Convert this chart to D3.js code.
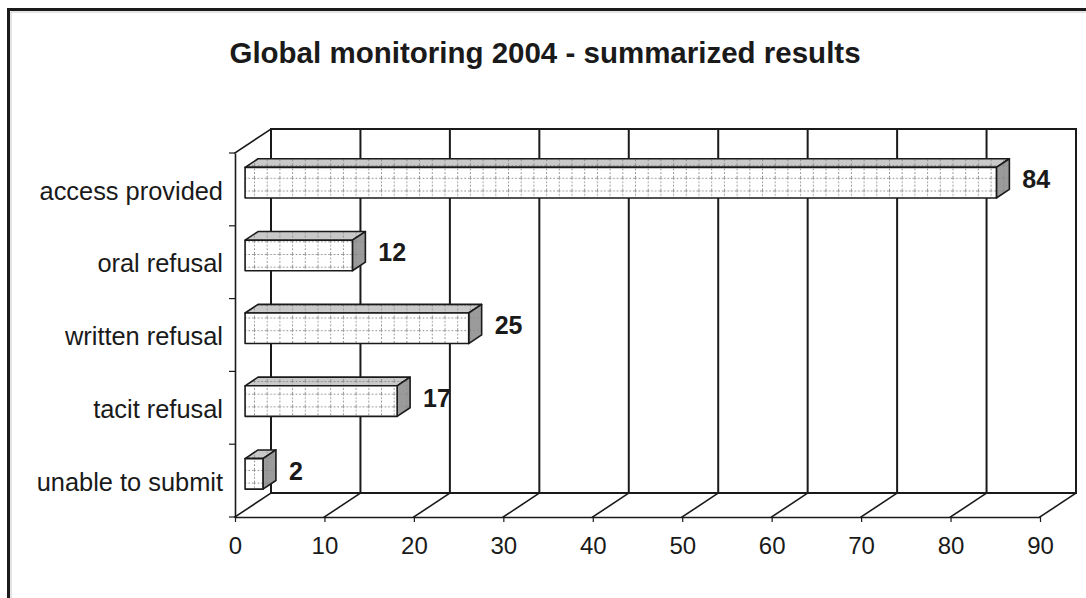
<!DOCTYPE html>
<html>
<head>
<meta charset="utf-8">
<script src="https://cdn.jsdelivr.net/npm/d3@7"></script>
<style>
  html, body { margin: 0; padding: 0; background: #fff; }
  svg { display: block; }
</style>
</head>
<body>
<div id="chart"></div>
<script>
// Chart data
const categories = ['access provided', 'oral refusal', 'written refusal', 'tacit refusal', 'unable to submit'];
const values = [84, 12, 25, 17, 2];
const xTicks = [0, 10, 20, 30, 40, 50, 60, 70, 80, 90];
const title = 'Global monitoring 2004 - summarized results';

const W = 1086, H = 598;
const fontFamily = '"Liberation Sans", Arial, sans-serif';
const ink = '#1a1a1a';

// 3D depth vector (front plane -> back wall) and bar slab depth fractions
const depth = { dx: 36, dy: -24 };
const barFront = 0.28, barBack = 0.64;

const svg = d3.select('#chart').append('svg')
  .attr('width', W)
  .attr('height', H)
  .attr('viewBox', `0 0 ${W} ${H}`);

// Pattern used for the bar faces
const defs = svg.append('defs');
const pat = defs.append('pattern')
  .attr('id', 'grid')
  .attr('patternUnits', 'userSpaceOnUse')
  .attr('width', 12.7)
  .attr('height', 12.7);
pat.append('line').attr('x1', 0.5).attr('x2', 0.5).attr('y1', 0).attr('y2', 12.7)
  .style('stroke', '#8a8a8a').style('stroke-width', 1).style('stroke-dasharray', '1.6,2');
pat.append('line').attr('x1', 0).attr('x2', 12.7).attr('y1', 0.5).attr('y2', 0.5)
  .style('stroke', '#8a8a8a').style('stroke-width', 1).style('stroke-dasharray', '1.6,2');

// Outer frame (clipped by the picture on right and bottom)
svg.append('path')
  .attr('d', `M8.5,${H + 5} V9.5 H${W + 5}`)
  .style('fill', 'none').style('stroke', ink).style('stroke-width', 3);
svg.append('path')
  .attr('d', `M11,${H + 5} V12 H${W + 5}`)
  .style('fill', 'none').style('stroke', '#c8c8c8').style('stroke-width', 1);

// Title
svg.append('text')
  .attr('x', 545)
  .attr('y', 63)
  .attr('text-anchor', 'middle')
  .style('font-family', fontFamily)
  .style('font-size', '29.5px')
  .style('font-weight', 'bold')
  .style('fill', ink)
  .text(title);

// Scales (front plane)
const x = d3.scaleLinear().domain([0, 90]).range([235, 1040]);
const y = d3.scaleBand().domain(categories).range([153, 517])
  .paddingInner(0.58).paddingOuter(0.29);

const y0 = y.range()[0], y1 = y.range()[1];
const step = y.step();
const bounds = d3.range(categories.length + 1).map(i => y0 + i * step);

const gWalls = svg.append('g').attr('class', 'walls');
const line = (x1, yA, x2, yB, w) => gWalls.append('line')
  .attr('x1', x1).attr('y1', yA).attr('x2', x2).attr('y2', yB)
  .style('stroke', ink).style('stroke-width', w).style('stroke-linecap', 'square');

// Back wall: vertical gridlines and top / bottom edges
xTicks.forEach(t => line(x(t) + depth.dx, y0 + depth.dy, x(t) + depth.dx, y1 + depth.dy, 2));
line(x(0) + depth.dx, y0 + depth.dy, x(90) + depth.dx, y0 + depth.dy, 2);
line(x(0) + depth.dx, y1 + depth.dy, x(90) + depth.dx, y1 + depth.dy, 2);

// Floor diagonals
xTicks.forEach(t => line(x(t), y1, x(t) + depth.dx, y1 + depth.dy, 1.6));

// Left wall top diagonal
line(x(0), y0, x(0) + depth.dx, y0 + depth.dy, 1.6);

// Front axes
const gAxes = svg.append('g').attr('class', 'axes');
gAxes.append('g')
  .attr('transform', `translate(0,${y1})`)
  .call(d3.axisBottom(x).tickValues(xTicks).tickSize(5).tickSizeOuter(0).tickPadding(15))
  .call(g => {
    g.select('.domain').style('stroke', ink).style('stroke-width', 1.6);
    g.selectAll('.tick line').style('stroke', ink).style('stroke-width', 1.2);
    g.selectAll('text').style('fill', ink).style('font-size', '24px').style('font-family', fontFamily);
  });

gAxes.append('g')
  .attr('transform', `translate(${x(0)},0)`)
  .call(d3.axisLeft(y).tickSize(0).tickPadding(12))
  .call(g => {
    g.select('.domain').style('stroke', ink).style('stroke-width', 1.6);
    g.selectAll('text').attr('dy', '0.4em').style('fill', ink).style('font-size', '25.4px').style('font-family', fontFamily);
  });

// Category boundary ticks
gAxes.selectAll('line.ytick')
  .data(bounds)
  .join('line')
  .attr('class', 'ytick')
  .attr('x1', x(0) - 6).attr('x2', x(0))
  .attr('y1', d => d).attr('y2', d => d)
  .style('stroke', ink).style('stroke-width', 1.2);

// Bars (3D slabs)
const o1 = { x: depth.dx * barFront, y: depth.dy * barFront };
const o2 = { x: depth.dx * barBack, y: depth.dy * barBack };
const gBars = svg.append('g').attr('class', 'bars');

categories.forEach((c, i) => {
  const v = values[i];
  const xa = x(0), xb = x(v);
  const yt = y(c), yb = y(c) + y.bandwidth();
  const g = gBars.append('g');
  const poly = pts => pts.map(p => p.join(',')).join(' ');

  const top = [[xa + o1.x, yt + o1.y], [xb + o1.x, yt + o1.y], [xb + o2.x, yt + o2.y], [xa + o2.x, yt + o2.y]];
  const end = [[xb + o1.x, yt + o1.y], [xb + o2.x, yt + o2.y], [xb + o2.x, yb + o2.y], [xb + o1.x, yb + o1.y]];
  const front = [[xa + o1.x, yt + o1.y], [xb + o1.x, yt + o1.y], [xb + o1.x, yb + o1.y], [xa + o1.x, yb + o1.y]];

  [[top, '#c9c9c9'], [end, '#9b9b9b'], [front, '#ffffff']].forEach(([pts, fill]) => {
    g.append('polygon').attr('points', poly(pts)).style('fill', fill);
    g.append('polygon').attr('points', poly(pts)).style('fill', 'url(#grid)')
      .style('stroke', ink).style('stroke-width', 1.6).style('stroke-linejoin', 'round');
  });

  // Value label
  g.append('text')
    .attr('x', xb + o2.x + 13)
    .attr('y', (yt + yb) / 2 - 10)
    .attr('dy', '0.36em')
    .style('font-family', fontFamily)
    .style('font-size', '25px')
    .style('font-weight', 'bold')
    .style('fill', ink)
    .text(v);
});
</script>
</body>
</html>
